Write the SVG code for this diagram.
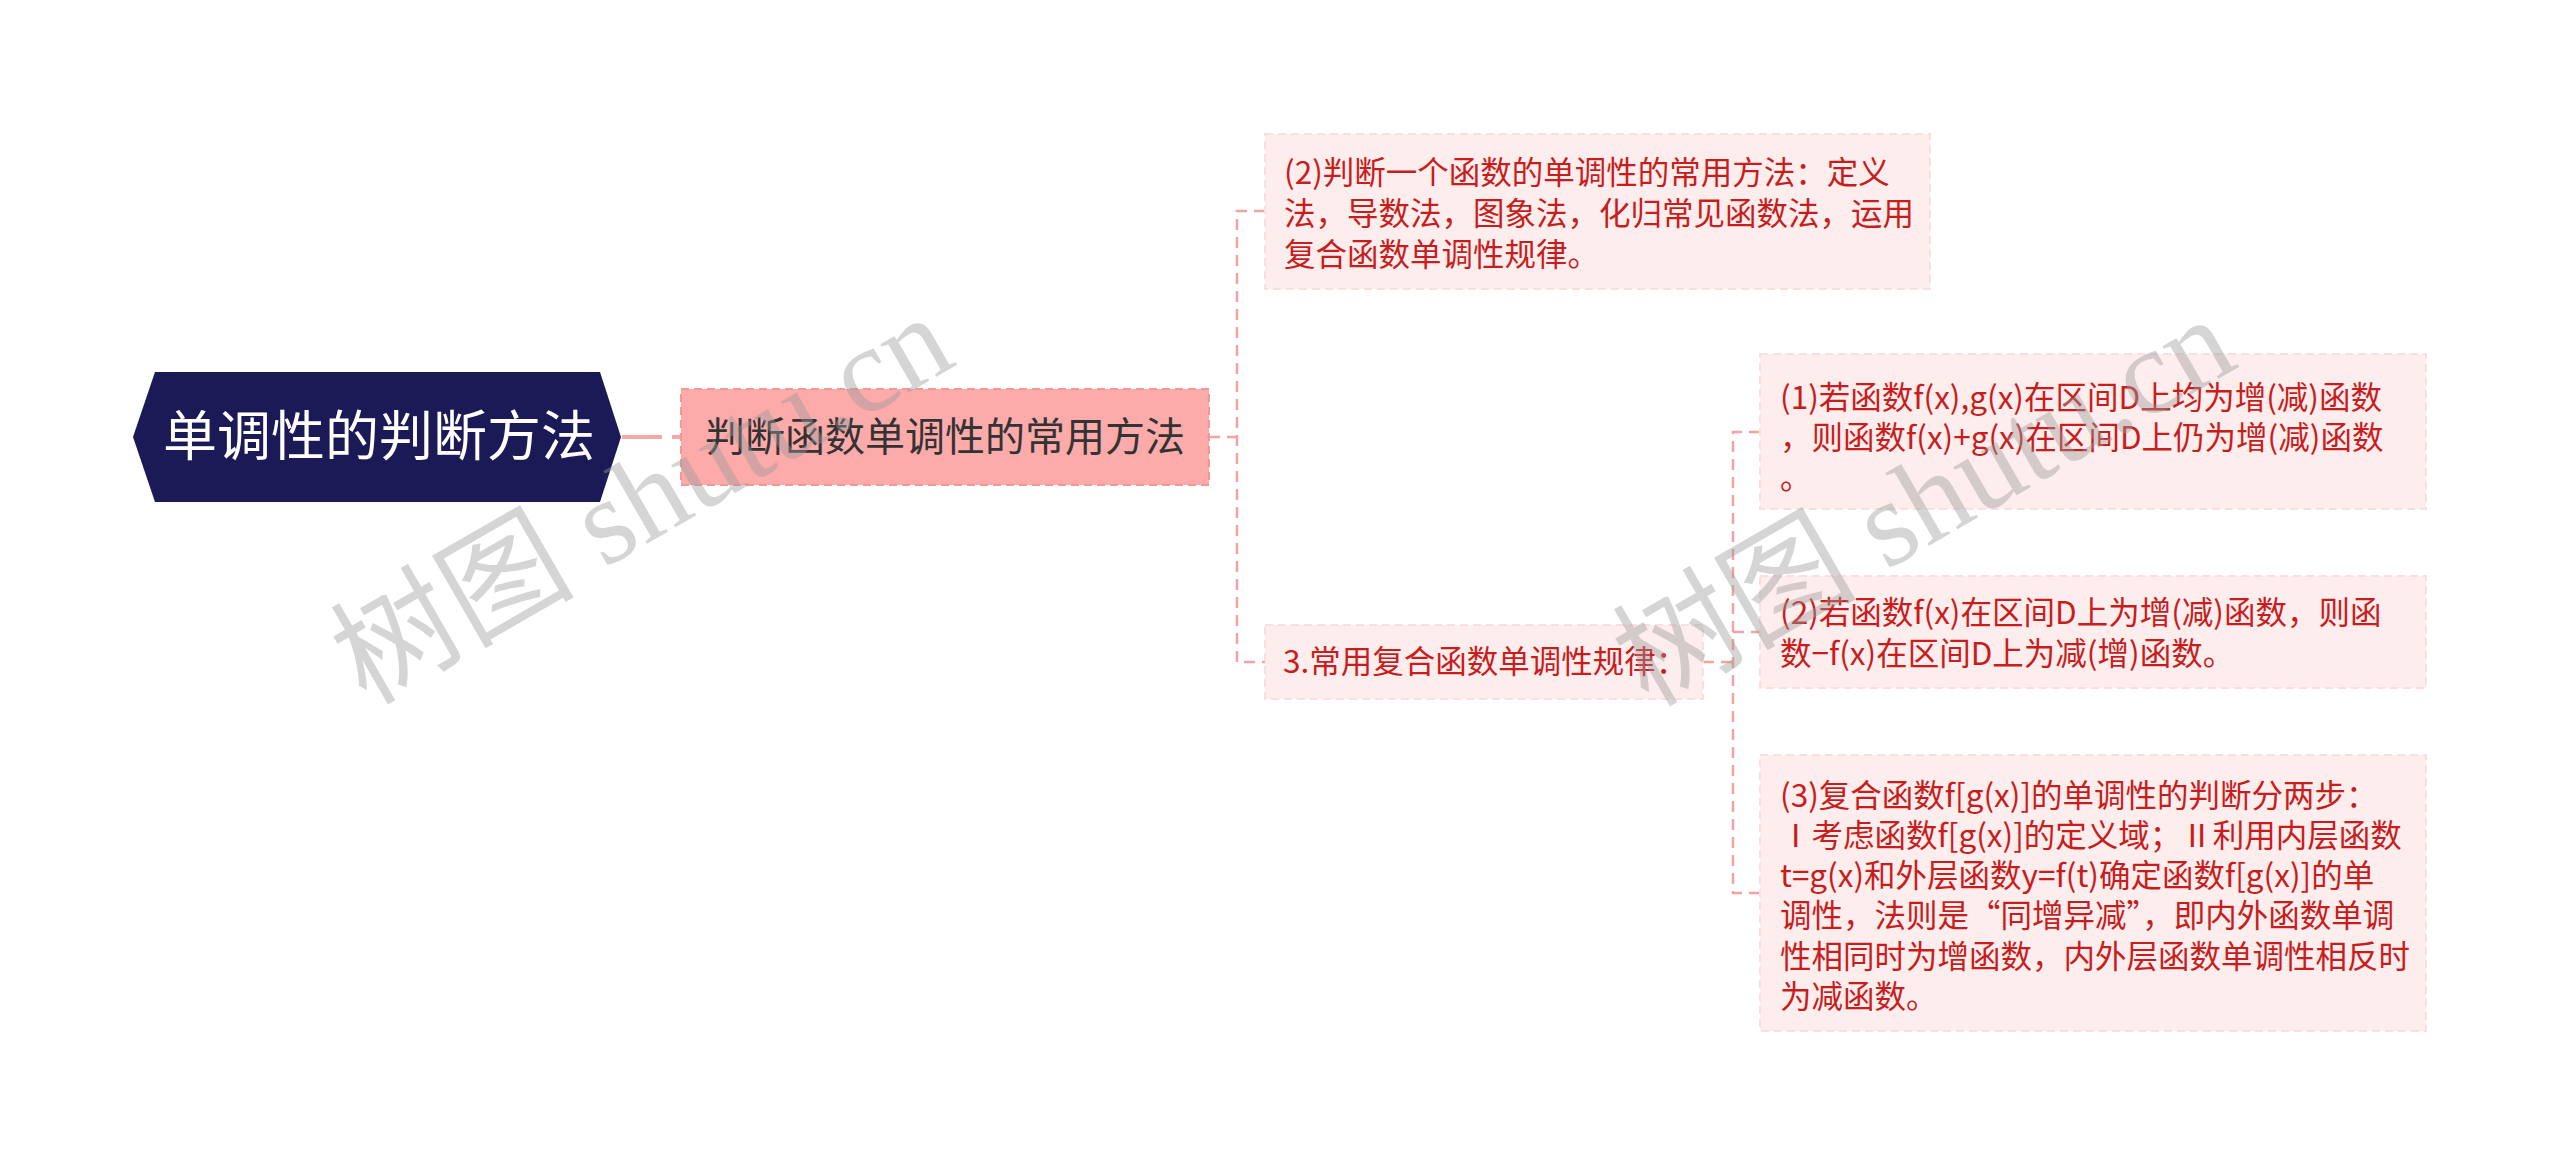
<svg xmlns="http://www.w3.org/2000/svg" width="2560" height="1167" viewBox="0 0 2560 1167">
<style>
.cn{font-family:"Noto Sans CJK SC","Liberation Sans",sans-serif;}
.leaf{fill:#fdeded;stroke:#f9e0e0;stroke-width:2;stroke-dasharray:8 5;}
.lt{font-size:31.5px;fill:#c81d1d;}
.con{fill:none;stroke:#f2a4a4;stroke-width:2.5;stroke-dasharray:11 7;}
.wm{font-family:"Liberation Serif","Noto Sans CJK SC",serif;font-size:122px;fill:#9a9a9a;fill-opacity:0.42;}
</style>
<rect x="0" y="0" width="2560" height="1167" fill="#ffffff"/>
<g id="connectors">
<path d="M622 437 H681" fill="none" stroke="#f4a8a8" stroke-width="4" stroke-dasharray="40 10"/>
<path class="con" d="M1209 437 H1237"/>
<path class="con" d="M1265 211 H1237 V662 H1265"/>
<path class="con" d="M1703 662 H1733"/>
<path class="con" d="M1760 432 H1733 V893 H1760"/>
<path class="con" d="M1733 632 H1760"/>
</g>
<g id="root">
<polygon points="133,437 155,372 600,372 621,437 600,502 155,502" fill="#1c1a56"/>
<text class="cn" x="379" y="456" font-size="54" fill="#ffffff" text-anchor="middle">单调性的判断方法</text>
</g>
<g id="main">
<rect x="681" y="389" width="528" height="96" fill="#fcaaaa" stroke="#f39898" stroke-width="2" stroke-dasharray="8 5"/>
<text class="cn" x="945" y="451" font-size="40" fill="#333333" text-anchor="middle">判断函数单调性的常用方法</text>
</g>
<g id="method">
<rect class="leaf" x="1265" y="134" width="665" height="155"/>
<text class="cn lt"><tspan x="1284" y="184">(2)判断一个函数的单调性的常用方法：定义</tspan><tspan x="1284" y="225">法，导数法，图象法，化归常见函数法，运用</tspan><tspan x="1284" y="266">复合函数单调性规律。</tspan></text>
</g>
<g id="rule">
<rect class="leaf" x="1265" y="625" width="438" height="74"/>
<text class="cn lt" x="1283" y="673">3.常用复合函数单调性规律：</text>
</g>
<g id="rule1">
<rect class="leaf" x="1760" y="354" width="666" height="155"/>
<text class="cn lt"><tspan x="1780" y="409">(1)若函数f(x),g(x)在区间D上均为增(减)函数</tspan><tspan x="1780" y="449">，则函数f(x)+g(x)在区间D上仍为增(减)函数</tspan><tspan x="1780" y="489">。</tspan></text>
</g>
<g id="rule2">
<rect class="leaf" x="1760" y="576" width="666" height="112"/>
<text class="cn lt"><tspan x="1780" y="624">(2)若函数f(x)在区间D上为增(减)函数，则函</tspan><tspan x="1780" y="665">数−f(x)在区间D上为减(增)函数。</tspan></text>
</g>
<g id="rule3">
<rect class="leaf" x="1760" y="755" width="666" height="276"/>
<text class="cn lt"><tspan x="1780" y="807">(3)复合函数f[g(x)]的单调性的判断分两步：</tspan><tspan x="1780" y="847">Ⅰ考虑函数f[g(x)]的定义域；Ⅱ利用内层函数</tspan><tspan x="1780" y="887">t=g(x)和外层函数y=f(t)确定函数f[g(x)]的单</tspan><tspan x="1780" y="927">调性，法则是“同增异减”，即内外函数单调</tspan><tspan x="1780" y="968">性相同时为增函数，内外层函数单调性相反时</tspan><tspan x="1780" y="1008">为减函数。</tspan></text>
</g>
<g id="watermarks">
<text class="wm" x="366" y="706" transform="rotate(-30 366 706)">树图 shutu.cn</text>
<text class="wm" x="1648" y="708" transform="rotate(-30 1648 708)">树图 shutu.cn</text>
</g>
</svg>
